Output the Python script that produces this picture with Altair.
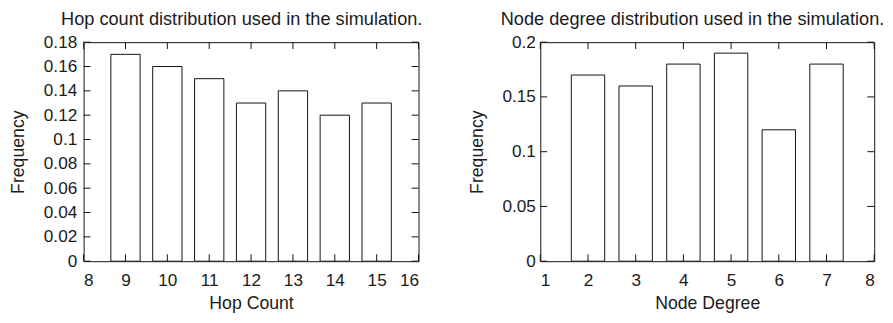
import altair as alt
import pandas as pd

hop_counts = [9, 10, 11, 12, 13, 14, 15]
hop_freq = [0.17, 0.16, 0.15, 0.13, 0.14, 0.12, 0.13]
hop_xticks = [8, 9, 10, 11, 12, 13, 14, 15, 16]
hop_yticks = [0, 0.02, 0.04, 0.06, 0.08, 0.1, 0.12, 0.14, 0.16, 0.18]

node_degrees = [2, 3, 4, 5, 6, 7]
node_freq = [0.17, 0.16, 0.18, 0.19, 0.12, 0.18]
node_xticks = [1, 2, 3, 4, 5, 6, 7, 8]
node_yticks = [0, 0.05, 0.1, 0.15, 0.2]

FONT = "Liberation Sans"
TXT = "#1a1a1a"
TL = 7  # inner tick length
LFS = 17.5   # tick labels
AFS = 18     # axis titles
TFS = 18.5   # chart titles


def panel(xs, ys, xticks, yticks, xdom, ydom, title, xtitle, w, h, dx, ylabpad):
    bars_df = pd.DataFrame({"x": xs, "y": ys})
    xt_df = pd.DataFrame({"t": xticks})
    yt_df = pd.DataFrame({"t": yticks})
    xs_ = alt.Scale(domain=xdom, nice=False, zero=False)
    ys_ = alt.Scale(domain=ydom, nice=False)
    xax = alt.Axis(values=xticks, format="d", ticks=False, domain=False,
                   grid=False, labelPadding=11, titlePadding=5.5,
                   labelOverlap=False, title=xtitle)
    yax = alt.Axis(values=yticks, format="~g", ticks=False, domain=False,
                   grid=False, labelPadding=ylabpad, titlePadding=16,
                   labelOverlap=False, title="Frequency")

    bars = alt.Chart(bars_df).transform_calculate(
        x0="datum.x - 0.35", x1="datum.x + 0.35", y0="0"
    ).mark_rect(fill="white", stroke="#111", strokeWidth=1).encode(
        x=alt.X("x0:Q", scale=xs_, axis=xax),
        x2="x1:Q",
        y=alt.Y("y:Q", scale=ys_, axis=yax),
        y2="y0:Q",
    )
    rule_style = dict(color="#111", strokeWidth=1)
    bt = alt.Chart(xt_df).mark_rule(**rule_style).encode(
        x=alt.X("t:Q", scale=xs_, axis=xax), y=alt.value(h), y2=alt.value(h - TL))
    tt = alt.Chart(xt_df).mark_rule(**rule_style).encode(
        x=alt.X("t:Q", scale=xs_, axis=xax), y=alt.value(0), y2=alt.value(TL))
    lt = alt.Chart(yt_df).mark_rule(**rule_style).encode(
        y=alt.Y("t:Q", scale=ys_, axis=yax), x=alt.value(0), x2=alt.value(TL))
    rt = alt.Chart(yt_df).mark_rule(**rule_style).encode(
        y=alt.Y("t:Q", scale=ys_, axis=yax), x=alt.value(w), x2=alt.value(w - TL))
    return alt.layer(bars, bt, tt, lt, rt).properties(
        width=w, height=h,
        title=alt.TitleParams(title, fontSize=TFS, font=FONT, color=TXT,
                              fontWeight="normal", anchor="middle", dx=dx, offset=5),
    )


left = panel(hop_counts, hop_freq, hop_xticks, hop_yticks, [8, 16], [0, 0.18],
             "Hop count distribution used in the simulation.", "Hop Count", 341, 223, -9.5, 7)
right = panel(node_degrees, node_freq, node_xticks, node_yticks, [1, 8], [0, 0.2],
              "Node degree distribution used in the simulation.", "Node Degree", 340, 223, -15, 5)

chart = alt.hconcat(left, right, spacing=45).properties(
    padding={"left": 1, "top": -1, "right": 0, "bottom": 0}
).configure_view(stroke="#111", strokeWidth=1).configure_axis(
    labelFont=FONT, titleFont=FONT, labelFontSize=LFS, titleFontSize=AFS,
    labelColor=TXT, titleColor=TXT, titleFontWeight="normal",
).configure_concat(spacing=45)

chart.save("out.html", embed_options={"renderer": "svg", "actions": False})
